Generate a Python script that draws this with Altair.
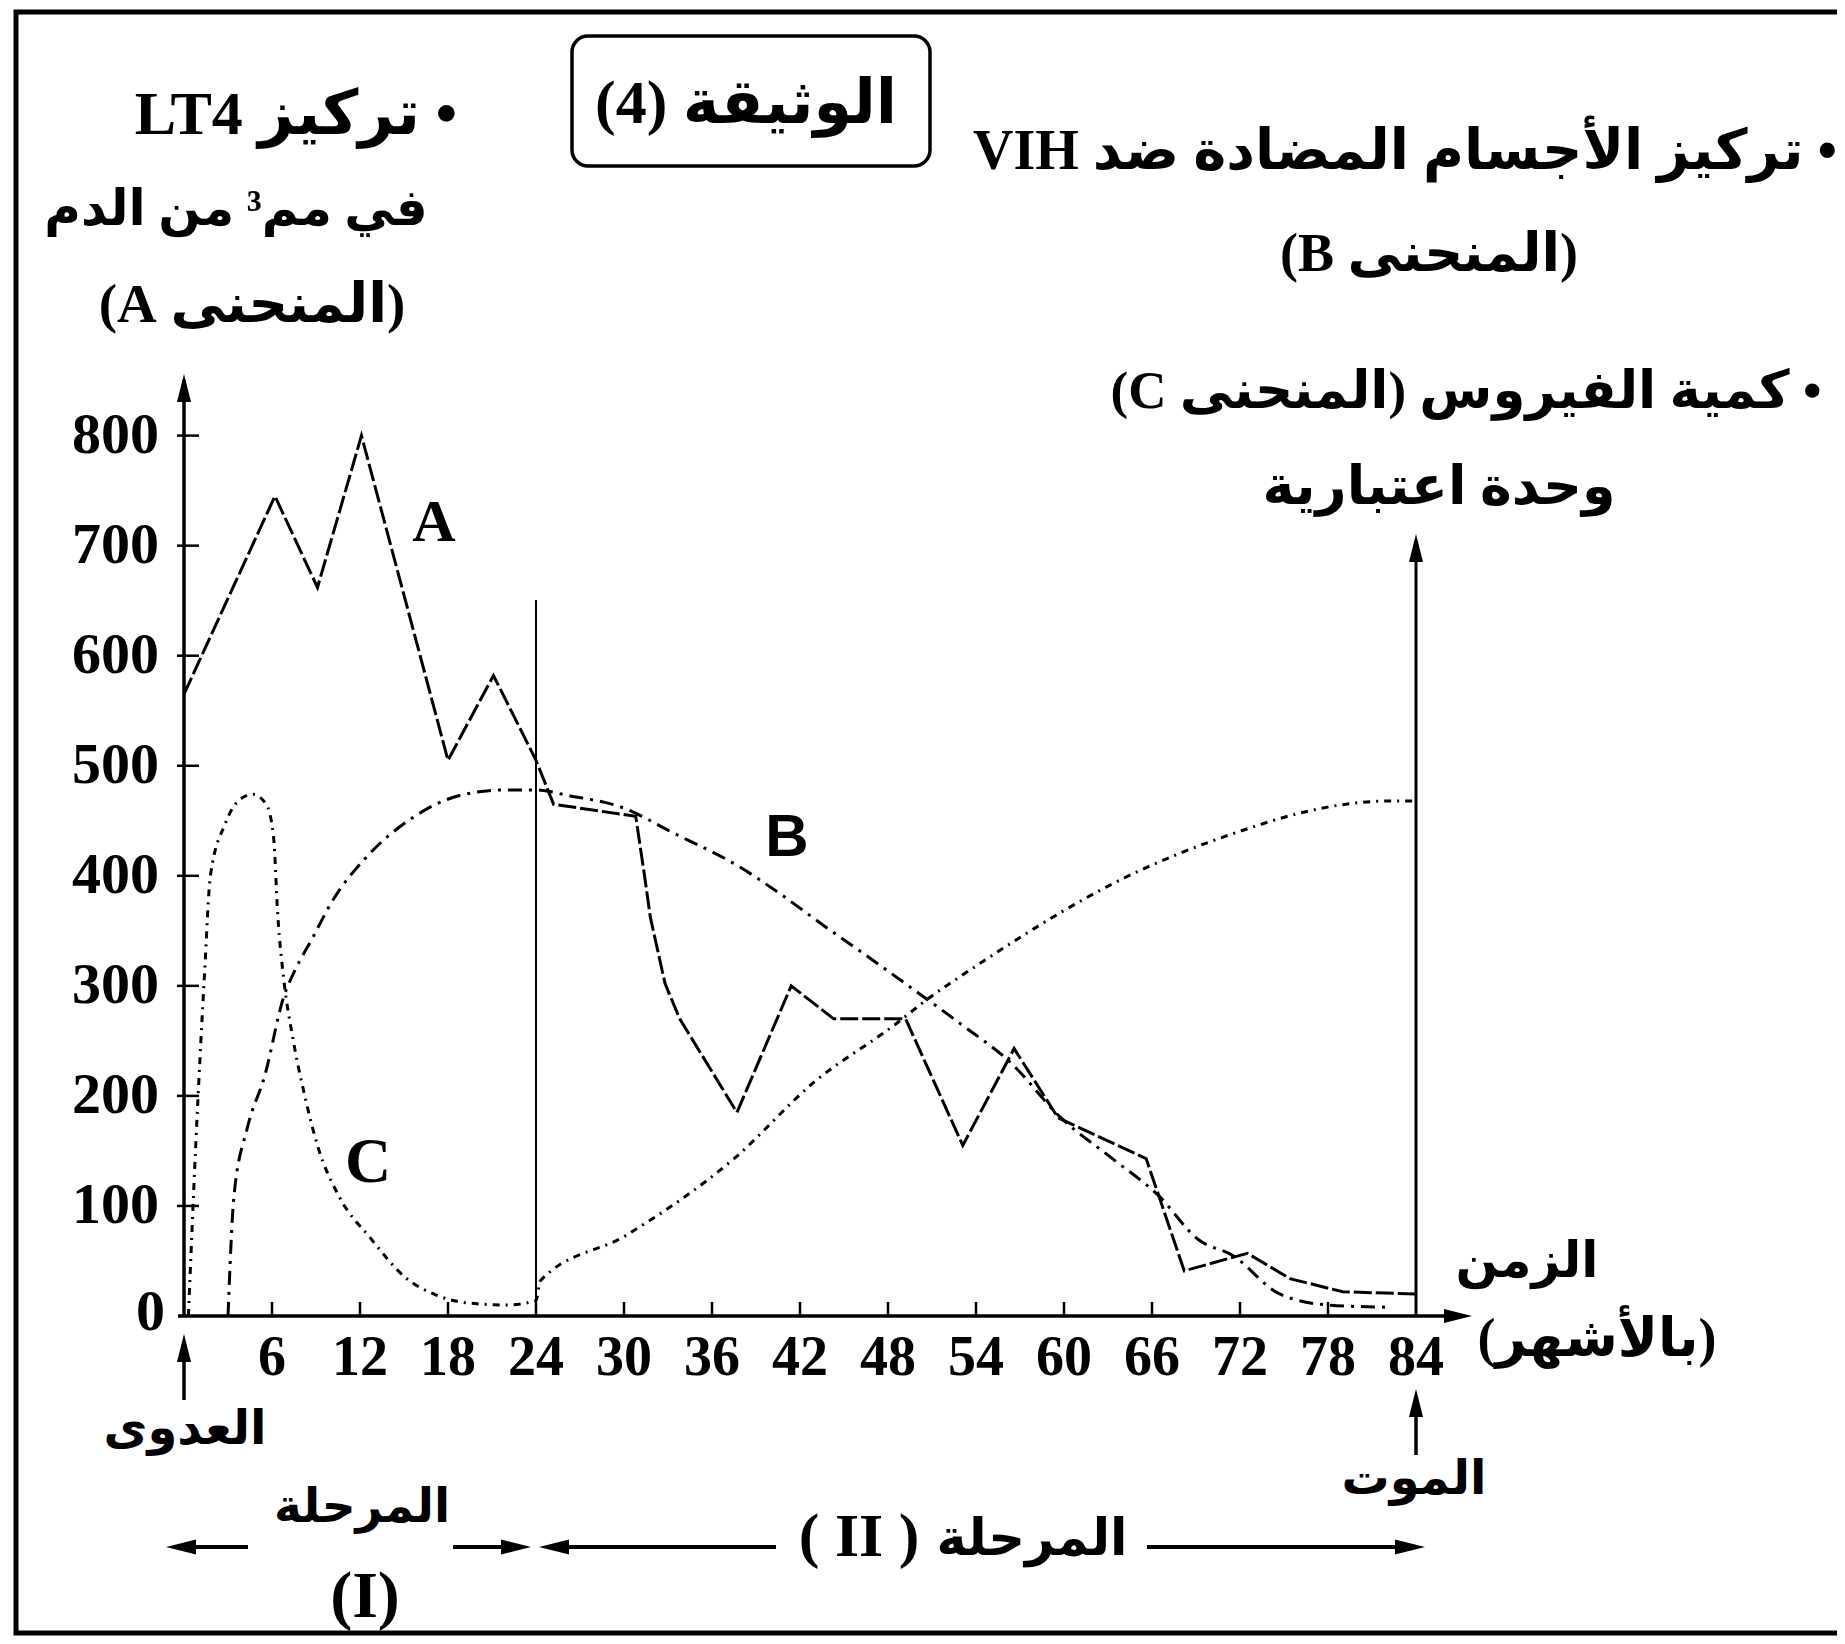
import altair as alt
import pandas as pd

# ---------------- data ----------------
months_A = [0, 6.2, 9.1, 12.1, 18.0, 21.1, 24.0, 25.2, 30.8, 31.4, 31.8, 32.8, 33.8, 37.7,
            41.4, 44.3, 49.2, 53.1, 56.6, 59.6, 65.6, 68.2, 72.5, 75.4, 79.0, 84.0]
lt4_A = [565, 745, 662, 800, 505, 582, 505, 465, 454, 400, 362, 302, 270, 185,
         300, 270, 270, 155, 243, 180, 143, 41, 57, 34, 22, 20]

months_B = [3.0, 3.4, 4.3, 5.5, 6.8, 7.6, 8.7, 10.2, 12.3, 15.5, 18.8, 21.8, 24.0, 26.2, 30.1, 33.2,
            37.9, 40.6, 43.7, 46.9, 49.6, 53.1, 56.3, 59.8, 63.3, 66.4, 69.2, 71.5, 74.7, 78.0, 82.0]
antibody_B = [0, 108, 170, 218, 290, 315, 342, 379, 415, 452, 473, 478, 478, 473, 461, 440,
              408, 384, 354, 324, 298, 264, 231, 180, 143, 110, 69, 55, 20, 10, 8]

months_C = [0.3, 0.8, 1.4, 1.8, 2.8, 3.7, 4.7, 5.6, 6.1, 6.4, 6.8, 7.4, 8.2, 9.1, 10.6, 12.7,
            15.1, 17.2, 19.3, 22.0, 24.0, 24.3, 30.1, 37.5, 43.0, 48.4, 50.8, 53.1, 56.3, 60.2,
            64.1, 68.0, 71.9, 75.8, 78.2, 82.4, 84.0]
virus_C = [0, 155, 311, 400, 447, 468, 474, 465, 436, 363, 306, 254, 202, 155, 108, 71,
           35, 19, 12, 10, 14, 32, 73, 143, 213, 264, 289, 310, 338, 370,
           398, 421, 440, 456, 463, 468, 468]

y_tick_values = [0, 100, 200, 300, 400, 500, 600, 700, 800]
x_tick_values = [6, 12, 18, 24, 30, 36, 42, 48, 54, 60, 66, 72, 78, 84]

# ---------------- layout ----------------
W, H = 1829, 1628
OX = 8                      # page margin
X0 = 184 - OX               # plot px of month 0
PXM = 88 / 6                # px per month
Y0 = 1316 - OX              # plot px of value 0
PXV = 1.1005                # px per unit


def mx(px):   # page px -> month
    return (px - OX - X0) / PXM


def vy(py):   # page px -> value
    return (Y0 - (py - OX)) / PXV


XS = alt.Scale(domain=[mx(OX), mx(OX + W)], nice=False, zero=False)
YS = alt.Scale(domain=[vy(OX + H), vy(OX)], nice=False, zero=False)


def X(f):
    return alt.X(f, type="quantitative", scale=XS, axis=None)


def Y(f):
    return alt.Y(f, type="quantitative", scale=YS, axis=None)


def series(ms, vs):
    return pd.DataFrame({"month": ms, "value": vs, "i": list(range(len(ms)))})


lineA = alt.Chart(series(months_A, lt4_A)).mark_line(
    color="black", strokeWidth=3, strokeDash=[18, 4]
).encode(x=X("month"), y=Y("value"), order="i:Q")

lineB = alt.Chart(series(months_B, antibody_B)).mark_line(
    color="black", strokeWidth=3, strokeDash=[14, 7, 3, 7], interpolate="monotone"
).encode(x=X("month"), y=Y("value"), order="i:Q")

lineC = alt.Chart(series(months_C, virus_C)).mark_line(
    color="black", strokeWidth=3, strokeDash=[7, 6, 2, 6], interpolate="monotone"
).encode(x=X("month"), y=Y("value"), order="i:Q")

# axes, ticks and arrows (in data coordinates)
rules = []
rules.append((mx(184), 0, mx(184), vy(380), 3.5))          # left axis
rules.append((84, 0, 84, vy(540), 3))                      # right axis
rules.append((mx(178), 0, mx(1458), 0, 3.5))               # time axis
rules.append((24, 0, 24, vy(600), 2))                      # separation line
for v in y_tick_values[1:]:
    rules.append((mx(177), v, mx(199), v, 2.5))
for m in x_tick_values[:-1]:
    rules.append((m, 0, m, vy(1302), 2.5))
rules.append((0, vy(1400), 0, vy(1350), 3.5))              # infection arrow
rules.append((84, vy(1455), 84, vy(1405), 3.5))            # death arrow
py = 1547
rules.append((mx(185), vy(py), mx(248), vy(py), 4))
rules.append((mx(453), vy(py), mx(515), vy(py), 4))
rules.append((mx(555), vy(py), mx(776), vy(py), 4))
rules.append((mx(1147), vy(py), mx(1410), vy(py), 4))
rules_df = pd.DataFrame(rules, columns=["x", "y", "x2", "y2", "w"])
rule_layer = alt.Chart(rules_df).mark_rule(color="black", strokeCap="butt").encode(
    x=X("x"), y=Y("y"), x2="x2:Q", y2="y2:Q",
    strokeWidth=alt.StrokeWidth("w:Q", scale=None),
)

UP = "M0,-1L0.5,1L-0.5,1Z"
RIGHT = "M1,0L-1,-0.5L-1,0.5Z"
LEFT = "M-1,0L1,-0.5L1,0.5Z"
heads = [
    (mx(184), vy(388), UP, 784),
    (84, vy(548), UP, 784),
    (mx(1458), 0, RIGHT, 784),
    (0, vy(1348), UP, 784),
    (84, vy(1403), UP, 784),
    (mx(181), vy(py), LEFT, 900),
    (mx(516), vy(py), RIGHT, 900),
    (mx(554), vy(py), LEFT, 900),
    (mx(1410), vy(py), RIGHT, 900),
]
heads_df = pd.DataFrame(heads, columns=["x", "y", "shape", "size"])
head_layer = alt.Chart(heads_df).mark_point(
    filled=True, color="black", opacity=1, strokeWidth=0
).encode(
    x=X("x"), y=Y("y"),
    shape=alt.Shape("shape:N", scale=None),
    size=alt.Size("size:Q", scale=None),
)

# tick labels
ylab = pd.DataFrame({
    "t": [str(v) for v in y_tick_values],
    "x": [mx(165)] + [mx(159)] * (len(y_tick_values) - 1),
    "y": [vy(1313)] + y_tick_values[1:],
})
ylab_layer = alt.Chart(ylab).mark_text(
    align="right", baseline="middle", font="Liberation Serif", fontWeight="bold",
    fontSize=58, color="black"
).encode(x=X("x"), y=Y("y"), text="t:N")

xlab = pd.DataFrame({"t": [str(m) for m in x_tick_values], "x": x_tick_values,
                     "y": [vy(1358)] * len(x_tick_values)})
xlab_layer = alt.Chart(xlab).mark_text(
    align="center", baseline="middle", font="Liberation Serif", fontWeight="bold",
    fontSize=56, color="black"
).encode(x=X("x"), y=Y("y"), text="t:N")

# curve letters
letters_serif = pd.DataFrame({"t": ["A", "C"], "x": [mx(434), mx(368)],
                              "y": [vy(523), vy(1163)], "fs": [60, 64]})
let1 = alt.Chart(letters_serif).mark_text(
    align="center", baseline="middle", font="Liberation Serif", fontWeight="bold", color="black"
).encode(x=X("x"), y=Y("y"), text="t:N", size=alt.Size("fs:Q", scale=None))
letters_sans = pd.DataFrame({"t": ["B"], "x": [mx(787)], "y": [vy(838)]})
let2 = alt.Chart(letters_sans).mark_text(
    align="center", baseline="middle", font="Liberation Sans", fontWeight="bold",
    fontSize=60, color="black"
).encode(x=X("x"), y=Y("y"), text="t:N")

# Arabic annotations (page px positions); wrapped in a right-to-left embedding
RLE, PDF = "\u202B", "\u202C"
notes = [
    ("الوثيقة (4)", 746, 104, 62),
    ("• تركيز LT4", 296, 115, 62),
    ("في مم³ من الدم", 236, 210, 50),
    ("(المنحنى A)", 252, 305, 55),
    ("• تركيز الأجسام المضادة ضد VIH", 1405, 152, 56),
    ("(المنحنى B)", 1429, 255, 54),
    ("• كمية الفيروس (المنحنى C)", 1466, 392, 53),
    ("وحدة اعتبارية", 1439, 488, 54),
    ("الزمن", 1527, 1262, 50),
    ("(بالأشهر)", 1597, 1340, 54),
    ("العدوى", 185, 1430, 48),
    ("الموت", 1414, 1480, 48),
    ("المرحلة", 362, 1508, 47),
    ("(I)", 365, 1597, 66),
    ("(  II  )", 859, 1537, 62),
    ("المرحلة", 1032, 1540, 51),
]
notes_df = pd.DataFrame({
    "t": [RLE + n[0] + PDF for n in notes],
    "x": [mx(n[1]) for n in notes],
    "y": [vy(n[2]) for n in notes],
    "fs": [n[3] for n in notes],
})
notes_layer = alt.Chart(notes_df).mark_text(
    align="center", baseline="middle", font="Liberation Serif, DejaVu Sans",
    fontWeight="bold", color="black"
).encode(x=X("x"), y=Y("y"), text="t:N", size=alt.Size("fs:Q", scale=None))

one = pd.DataFrame({"a": [0]})
frame = alt.Chart(one).mark_rect(
    fillOpacity=0, stroke="black", strokeWidth=5
).encode(x=alt.value(8), x2=alt.value(W + 20), y=alt.value(4), y2=alt.value(H - 3))
title_box = alt.Chart(one).mark_rect(
    fillOpacity=0, stroke="black", strokeWidth=3.5, cornerRadius=16
).encode(x=alt.value(572 - OX), x2=alt.value(930 - OX), y=alt.value(36 - OX), y2=alt.value(166 - OX))

chart = alt.layer(
    frame, title_box, lineC, lineB, lineA, rule_layer, head_layer,
    ylab_layer, xlab_layer, let1, let2, notes_layer
).properties(
    width=W, height=H, padding=0, autosize=alt.AutoSizeParams(type="none"),
    background="white"
).configure_view(stroke=None)

chart.save("out.html", embed_options={"renderer": "svg", "actions": False})
